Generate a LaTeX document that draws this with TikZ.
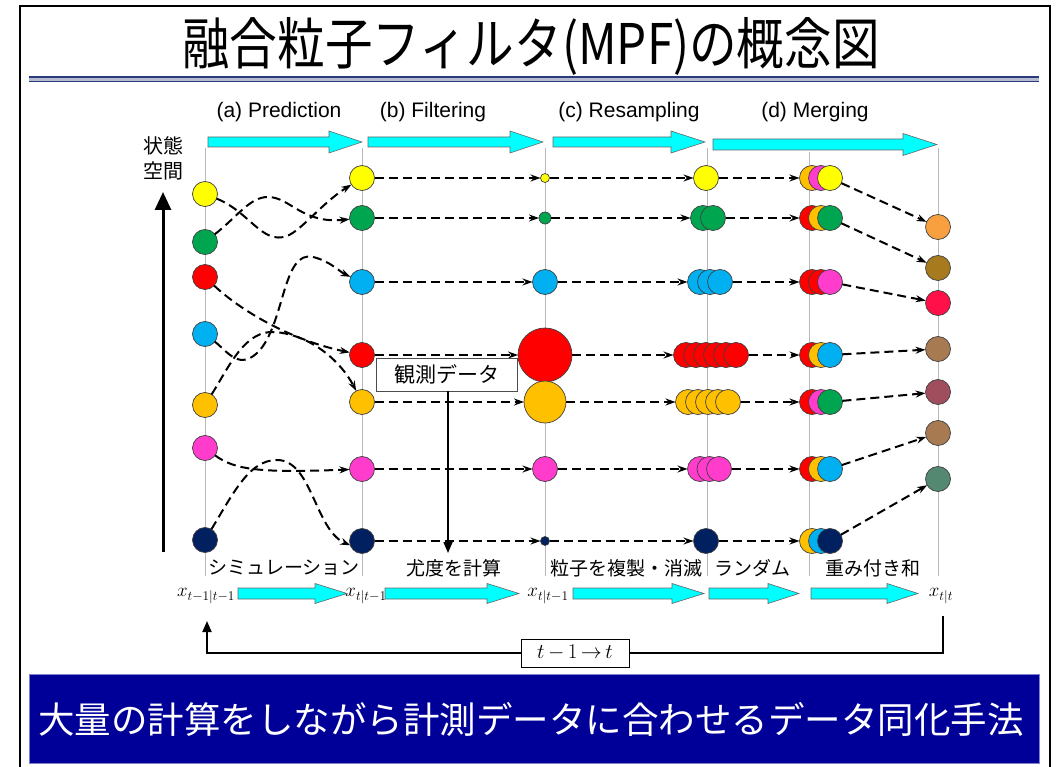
\RequirePackage{fix-cm}
\documentclass[tikz,border=0pt]{standalone}
\usepackage{fontspec}
\setmainfont{Liberation Sans}
\newfontfamily\jp{Noto Sans CJK JP}
\usetikzlibrary{arrows.meta}
\definecolor{pyel}{HTML}{FFFF00}
\definecolor{pgrn}{HTML}{00A550}
\definecolor{pred}{HTML}{FF0000}
\definecolor{pblu}{HTML}{00B0F0}
\definecolor{pora}{HTML}{FFC000}
\definecolor{ppnk}{HTML}{FF3CCB}
\definecolor{pnav}{HTML}{002060}
\definecolor{fa}{HTML}{F8A040}
\definecolor{fb}{HTML}{A87A1E}
\definecolor{fc}{HTML}{FF1048}
\definecolor{fd}{HTML}{A87A52}
\definecolor{fe}{HTML}{A04E5E}
\definecolor{fg}{HTML}{548870}
\definecolor{cyfill}{HTML}{00FFFF}
\definecolor{bannerblue}{HTML}{000099}
\definecolor{ruleblue}{HTML}{2A3A7A}
\newcommand\cyarrow[6]{\draw[cyarr] ({#1},{#4-#5}) -- ({#3},{#4-#5}) -- ({#3},{#4-#6}) -- ({#2},{#4}) -- ({#3},{#4+#6}) -- ({#3},{#4+#5}) -- ({#1},{#4+#5}) -- cycle;}
\begin{document}
\begin{tikzpicture}[x=1pt,y=-1pt,
  pt/.style={circle, draw=black!75, line width=0.7pt, minimum size=25pt, inner sep=0pt, outer sep=0pt},
  colline/.style={draw=black!28, line width=0.8pt},
  darr/.style={line width=2pt, dash pattern=on 9pt off 5pt, -{Stealth[length=10pt,width=7pt]}},
  cyarr/.style={fill=cyfill, draw=black!60, line width=0.6pt},
  lab/.style={font=\fontsize{21}{24}\selectfont, inner sep=0pt},
  jlab/.style={font=\jp\fontsize{19}{22}\selectfont, inner sep=0pt},
  mlab/.style={font=\fontsize{19}{23}\selectfont, inner sep=0pt}]
\useasboundingbox (0,0) rectangle (1058,767);
\fill[white] (0,0) rectangle (1058,767);
% frame
\draw[line width=2.4pt] (20,767) -- (20,6) -- (1050,6) -- (1050,767);
% title
\node[inner sep=0pt] (title) at (531,46) {\scalebox{0.85}[1]{\jp\fontsize{56}{60}\selectfont 融合粒子フィルタ(MPF)の概念図}};
\fill[ruleblue!35] (29,76) rectangle (1039,82.5);
\draw[ruleblue, line width=1.7pt] (29,77) -- (1039,77);
\draw[ruleblue, line width=1.7pt] (29,81.5) -- (1039,81.5);
% column lines
\foreach \x in {205,362,545,707,938} \draw[colline] (\x,148) -- (\x,576);
\draw[colline] (809,152) -- (809,576);
% top arrows and labels
\cyarrow{208}{362}{329}{142}{5}{11}
\cyarrow{368}{543}{510}{142}{5}{11}
\cyarrow{553}{705}{671}{142}{5}{11}
\cyarrow{713}{937}{903}{144.5}{5.5}{11}
\node[lab] (la) at (279,112) {(a) Prediction};
\node[lab] (lb) at (433,112) {(b) Filtering};
\node[lab] (lc) at (629,112) {(c) Resampling};
\node[lab] (ld) at (815,112) {(d) Merging};
\node[jlab, font=\jp\fontsize{20}{22}\selectfont] (s1) at (163,146) {状態};
\node[jlab, font=\jp\fontsize{20}{22}\selectfont] (s2) at (163,171) {空間};
% state axis arrow
\coordinate (axb) at (163,552);
\coordinate (axt) at (163,192);
\draw[line width=3pt, -{Triangle[length=18pt,width=16pt]}] (axb) -- (axt);
% column A
\node[pt, fill=pyel] (a1) at (205,194) {};
\node[pt, fill=pgrn] (a2) at (205,242) {};
\node[pt, fill=pred] (a3) at (205,277) {};
\node[pt, fill=pblu] (a4) at (205,334) {};
\node[pt, fill=pora] (a5) at (205,405) {};
\node[pt, fill=ppnk] (a6) at (205,448) {};
\node[pt, fill=pnav] (a7) at (205,540) {};
% column B
\node[pt, fill=pyel] (b1) at (362,178) {};
\node[pt, fill=pgrn] (b2) at (362,218) {};
\node[pt, fill=pblu] (b3) at (362,282) {};
\node[pt, fill=pred] (b4) at (362,355) {};
\node[pt, fill=pora] (b5) at (362,402) {};
\node[pt, fill=ppnk] (b6) at (362,469) {};
\node[pt, fill=pnav] (b7) at (362,541) {};
% column C
\node[pt, fill=pyel, minimum size=9pt] (c1) at (545,178) {};
\node[pt, fill=pgrn, minimum size=12pt] (c2) at (545,218) {};
\node[pt, fill=pblu] (c3) at (545,282) {};
\node[pt, fill=pred, minimum size=54pt] (c4) at (545,355) {};
\node[pt, fill=pora, minimum size=42pt] (c5) at (545,402) {};
\node[pt, fill=ppnk] (c6) at (545,469) {};
\node[pt, fill=pnav, minimum size=9pt] (c7) at (545,541) {};
% column D
\node[pt, fill=pyel] (d1-1) at (706,178) {};
\foreach \x [count=\i] in {703,713} \node[pt, fill=pgrn] (d2-\i) at (\x,218) {};
\foreach \x [count=\i] in {700,710,720} \node[pt, fill=pblu] (d3-\i) at (\x,282) {};
\foreach \x [count=\i] in {686,696,706,716,726,736} \node[pt, fill=pred] (d4-\i) at (\x,355) {};
\foreach \x [count=\i] in {688,698,708,718,728} \node[pt, fill=pora] (d5-\i) at (\x,402) {};
\foreach \x [count=\i] in {700,709.5,719} \node[pt, fill=ppnk] (d6-\i) at (\x,469) {};
\node[pt, fill=pnav] (d7-1) at (706,541) {};
% column E
\foreach \r/\y/\ca/\cb/\cc in {1/178/pora/ppnk/pyel, 2/218/pred/pora/pgrn, 3/282/pred/pred/ppnk, 4/355/pred/pora/pblu, 5/402/pred/ppnk/pgrn, 6/469/pred/pora/pblu, 7/541/pora/pblu/pnav}{
  \node[pt, fill=\ca] (e\r-1) at (812,\y) {};
  \node[pt, fill=\cb] (e\r-2) at (821,\y) {};
  \node[pt, fill=\cc] (e\r-3) at (830,\y) {};
}
% column F
\node[pt, fill=fa] (f1) at (938,227) {};
\node[pt, fill=fb] (f2) at (938,268) {};
\node[pt, fill=fc] (f3) at (938,303) {};
\node[pt, fill=fd] (f4) at (938,349) {};
\node[pt, fill=fe] (f5) at (938,392) {};
\node[pt, fill=fd] (f6) at (938,433) {};
\node[pt, fill=fg] (f7) at (938,479) {};
% prediction curves
\draw[darr] (a1) .. controls (250,212) and (262,245) .. (287,236) .. controls (302,230) and (322,203) .. (b1);
\draw[darr] (a2) .. controls (238,216) and (250,197) .. (268,197) .. controls (290,197) and (302,224) .. (b2);
\draw[darr] (a3) .. controls (240,310) and (290,340) .. (b4);
\draw[darr] (a4) .. controls (228,352) and (240,372) .. (260,350) .. controls (285,320) and (283,250) .. (313,257) .. controls (330,261) and (340,272) .. (b3);
\draw[darr] (a5) .. controls (230,365) and (245,330) .. (275,332) .. controls (310,335) and (340,360) .. (b5);
\draw[darr] (a6) .. controls (235,470) and (260,473) .. (b6);
\draw[darr] (a7) .. controls (235,490) and (250,460) .. (277,460) .. controls (312,460) and (315,530) .. (b7.200);
% filtering, resampling, merging rows
\foreach \i in {1,...,7} \draw[darr] (b\i.east) -- (c\i.west);
\draw[darr] (c1.east) -- (d1-1.west);
\draw[darr] (c2.east) -- (d2-1.west);
\draw[darr] (c3.east) -- (d3-1.west);
\draw[darr] (c4.east) -- (d4-1.west);
\draw[darr] (c5.east) -- (d5-1.west);
\draw[darr] (c6.east) -- (d6-1.west);
\draw[darr] (c7.east) -- (d7-1.west);
\draw[darr] (d1-1.east) -- (e1-1.west);
\draw[darr] (d2-2.east) -- (e2-1.west);
\draw[darr] (d3-3.east) -- (e3-1.west);
\draw[darr] (d4-6.east) -- (e4-1.west);
\draw[darr] (d5-5.east) -- (e5-1.west);
\draw[darr] (d6-3.east) -- (e6-1.west);
\draw[darr] (d7-1.east) -- (e7-1.west);
\foreach \i in {1,...,7} \draw[darr] (e\i-3) -- (f\i);
% observation box
\node[draw=black!70, line width=0.9pt, fill=white, minimum width=141pt, minimum height=33pt, inner sep=0pt, font=\jp\fontsize{21}{24}\selectfont] (obs) at (446.5,374.5) {観測データ};
\coordinate (obsend) at (448,553);
\draw[line width=1.5pt, -{Triangle[length=11pt,width=9pt]}] (obs.south -| obsend) -- (obsend);
% bottom labels
\node[jlab] (t1) at (284,568) {シミュレーション};
\node[jlab] (t2) at (454,568) {尤度を計算};
\node[jlab] (t3) at (626,568) {粒子を複製・消滅};
\node[jlab] (t4) at (752,568) {ランダム};
\node[jlab] (t5) at (873,568) {重み付き和};
% bottom arrows
\cyarrow{238}{347}{315}{593.5}{5.5}{10}
\cyarrow{385}{519}{487}{593.5}{5.5}{10}
\cyarrow{573}{704}{672}{593.5}{5.5}{10}
\cyarrow{709}{799}{768}{593.5}{5.5}{10}
\cyarrow{811}{918}{887}{593.5}{5.5}{10}
% state labels
\node[mlab] (xA) at (206,596) {$x_{t-1|t-1}$};
\node[mlab] (xB) at (366,596) {$x_{t|t-1}$};
\node[mlab] (xC) at (548,596) {$x_{t|t-1}$};
\node[mlab] (xF) at (941,596) {$x_{t|t}$};
% loop
\node[draw, line width=0.8pt, fill=white, minimum width=108pt, minimum height=28pt, inner sep=0pt, font=\fontsize{21}{24}\selectfont] (loop) at (575,653) {$t\,{-}\,1\,{\to}\,t$};
\coordinate (lpR) at (943,616);
\coordinate (lpL) at (207,621);
\draw[line width=2pt] (lpR) |- (loop.east);
\draw[line width=2pt, -{Triangle[length=11pt,width=9pt]}] (loop.west) -| (lpL);
% banner
\node[fill=bannerblue, draw=bannerblue!50, line width=0.8pt, minimum width=1010pt, minimum height=89pt, inner sep=0pt] (banner) at (534,718.5) {};
\node[inner sep=0pt, text=white, font=\jp\fontsize{36.5}{40}\selectfont] (bannertext) at (531,719) {大量の計算をしながら計測データに合わせるデータ同化手法};
\end{tikzpicture}
\end{document}
